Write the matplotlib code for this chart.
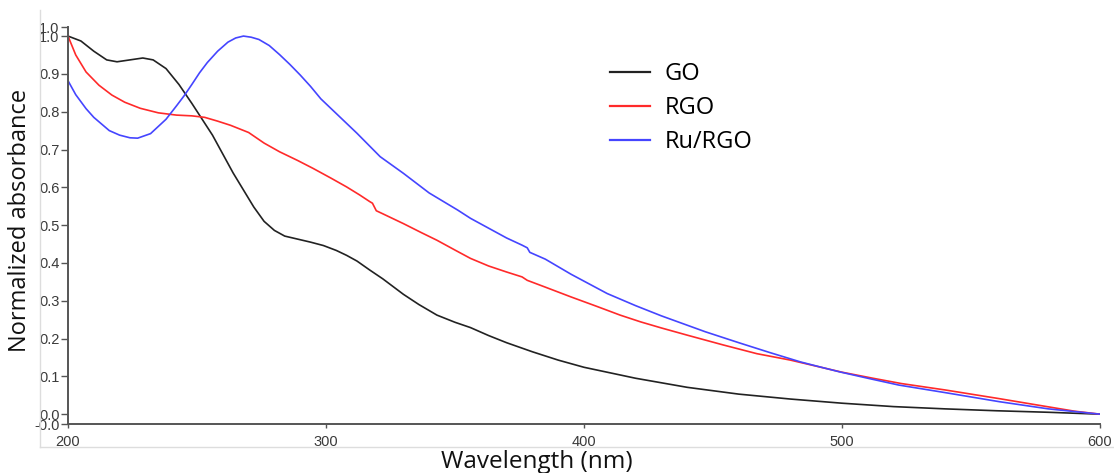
import numpy as np
import matplotlib
matplotlib.use('Agg')
import matplotlib.pyplot as plt
from matplotlib.ticker import FormatStrFormatter

# UV-vis spectra, normalized
go_wl = [200, 205, 210, 215, 219, 224, 229, 233, 238, 243, 248, 252, 256, 260, 264, 268,
         272, 276, 280, 284, 289, 294, 299, 304, 308, 312, 317, 322, 330, 336, 343, 350,
         356, 363, 370, 380, 390, 400, 420, 440, 460, 480, 500, 520, 540, 560, 580, 600]
go_abs = [1.000, 0.987, 0.960, 0.937, 0.932, 0.937, 0.942, 0.937, 0.914, 0.872, 0.822, 0.780,
          0.738, 0.688, 0.638, 0.593, 0.548, 0.510, 0.486, 0.471, 0.463, 0.455, 0.446, 0.433,
          0.420, 0.405, 0.381, 0.358, 0.317, 0.290, 0.262, 0.243, 0.229, 0.208, 0.189, 0.165,
          0.143, 0.124, 0.095, 0.071, 0.053, 0.040, 0.029, 0.020, 0.014, 0.009, 0.005, 0.000]

rgo_wl = [200, 203, 207, 212, 217, 222, 228, 235, 242, 248, 253, 258, 263, 270, 276, 282,
          289, 295, 302, 308, 313, 317, 318, 319.5, 322, 330, 337, 343, 350, 356, 363, 370,
          376, 378, 385, 395, 405, 414, 422, 430, 440, 454, 467, 480, 490, 500, 512, 523,
          540, 561, 575, 590, 600]
rgo_abs = [1.000, 0.950, 0.905, 0.870, 0.844, 0.825, 0.809, 0.797, 0.791, 0.789, 0.785, 0.775,
           0.764, 0.745, 0.717, 0.694, 0.671, 0.650, 0.624, 0.601, 0.580, 0.562, 0.558, 0.538,
           0.530, 0.504, 0.480, 0.460, 0.434, 0.412, 0.392, 0.376, 0.363, 0.354, 0.336, 0.310,
           0.285, 0.262, 0.244, 0.228, 0.209, 0.183, 0.160, 0.143, 0.127, 0.111, 0.095, 0.081,
           0.064, 0.041, 0.025, 0.008, 0.000]

ru_wl = [200, 203, 207, 210, 216, 220, 224, 227, 232, 238, 242, 245, 248, 251, 254, 258,
         262, 265, 268, 271, 274, 278, 282, 286, 290, 294, 298, 304, 312, 321, 330, 340,
         351, 356, 363, 370, 376, 378, 379, 385, 395, 409, 420, 430, 447, 460, 472, 484,
         492, 499, 510, 522, 540, 561, 580, 600]
ru_abs = [0.882, 0.845, 0.808, 0.785, 0.750, 0.738, 0.731, 0.730, 0.742, 0.780, 0.815, 0.842,
          0.872, 0.903, 0.930, 0.960, 0.984, 0.995, 1.000, 0.997, 0.991, 0.975, 0.951, 0.925,
          0.897, 0.867, 0.834, 0.795, 0.743, 0.681, 0.637, 0.585, 0.540, 0.518, 0.492, 0.466,
          0.447, 0.440, 0.428, 0.410, 0.370, 0.319, 0.287, 0.260, 0.218, 0.189, 0.163, 0.138,
          0.124, 0.112, 0.095, 0.077, 0.057, 0.033, 0.014, 0.000]

labels = ['GO', 'RGO', 'Ru/RGO']
colors = ['#222222', '#ff2a2a', '#4545ff']

x_ticks = [200, 300, 400, 500, 600]
y_min, y_max = -0.026, 1.024


def main():
    fig = plt.figure(figsize=(11.14, 4.73), dpi=100)
    W, H = 1114.0, 473.0

    # faint outer frame lines
    fig.add_artist(plt.Line2D([40 / W, 40 / W], [1 - 10 / H, 1 - 447 / H],
                              color='#dddddd', lw=1.0))
    fig.add_artist(plt.Line2D([40 / W, 1.0], [1 - 447 / H, 1 - 447 / H],
                              color='#dddddd', lw=1.0))

    ax = fig.add_axes([68 / W, 1 - 424 / H, (1100 - 68) / W, (424 - 27) / H])

    series = [(go_wl, go_abs), (rgo_wl, rgo_abs), (ru_wl, ru_abs)]
    for (wl, ab), lab, c in zip(series, labels, colors):
        ax.plot(wl, ab, color=c, lw=1.2, label=lab)

    ax.set_xlim(200, 600)
    ax.set_ylim(y_min, y_max)
    ax.set_xticks(x_ticks)
    ax.set_yticks([y_min] + list(np.round(np.arange(0, 1.01, 0.1), 1)) + [y_max])
    ax.yaxis.set_major_formatter(FormatStrFormatter('%.1f'))

    for s in ['top', 'right']:
        ax.spines[s].set_visible(False)
    for s in ['left', 'bottom']:
        ax.spines[s].set_color('#555555')
        ax.spines[s].set_linewidth(1.4)

    ax.tick_params(axis='y', length=5, width=1.0, color='#555555', pad=1,
                   labelsize=10.5, labelcolor='#3a3a3a')
    ax.tick_params(axis='x', length=3, width=1.0, color='#555555', pad=5,
                   labelsize=10.5, labelcolor='#3a3a3a')
    for t in ax.get_xticklabels() + ax.get_yticklabels():
        t.set_family('Liberation Sans')

    leg = ax.legend(loc='upper left', bbox_to_anchor=(610 / W, 1 - 62 / H),
                    bbox_transform=fig.transFigure, frameon=False, borderpad=0,
                    borderaxespad=0, handlelength=1.7, handletextpad=0.6,
                    labelspacing=0.43, prop={'family': 'Open Sans', 'size': 17})
    for line in leg.get_lines():
        line.set_linewidth(1.6)

    fig.text(20 / W, 1 - 220 / H, 'Normalized absorbance', rotation=90,
             ha='center', va='center', family='Open Sans', size=17, color='#111111')
    fig.text(537 / W, 1 - 450 / H, 'Wavelength (nm)', ha='center', va='top',
             family='Open Sans', size=17.5, color='#111111')

    fig.savefig('out.png', dpi=100)


if __name__ == '__main__':
    main()
